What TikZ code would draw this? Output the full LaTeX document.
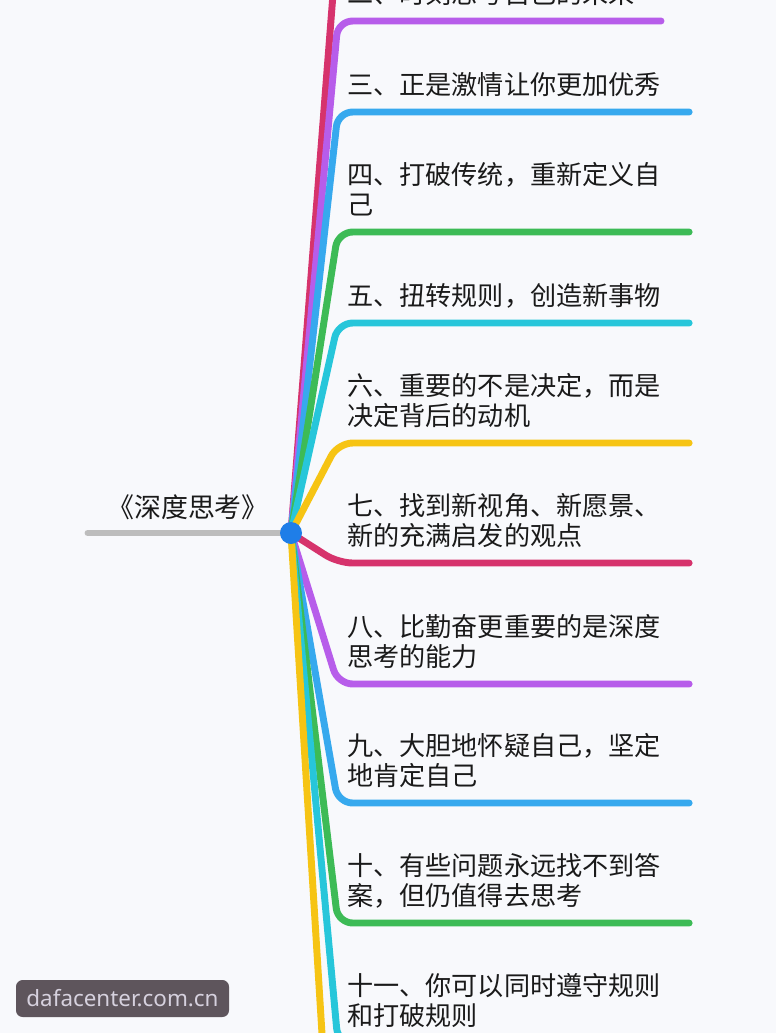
\documentclass[tikz,border=0pt]{standalone}
\usepackage{fontspec}
\setmainfont{Noto Sans CJK SC}
\newfontfamily\sitefont{Noto Sans}
\usepackage{xcolor}
\usepackage{tikz}
\usetikzlibrary{positioning, calc}

\definecolor{mmred}{HTML}{D6336C}
\definecolor{mmpurple}{HTML}{B75DEA}
\definecolor{mmblue}{HTML}{37A9EE}
\definecolor{mmgreen}{HTML}{3DBB56}
\definecolor{mmcyan}{HTML}{27C6DA}
\definecolor{mmyellow}{HTML}{F6C414}
\definecolor{mmgray}{HTML}{BDBDBD}
\definecolor{mmdot}{HTML}{1F7EE8}
\definecolor{mmtext}{HTML}{1A1A1A}
\definecolor{mmbg}{HTML}{F8F9FC}
\definecolor{mmwm}{HTML}{5E555C}
\definecolor{mmwmtext}{HTML}{D6D1DE}

\begin{document}
\begin{tikzpicture}[x=0.75pt, y=-0.75pt,
    item/.style={anchor=south west, inner sep=0pt, text depth=0pt, align=left, text=mmtext, font=\fontsize{19.6pt}{22.5pt}\selectfont},
    branch/.style={line width=5.2pt, line cap=round, rounded corners=11pt},
    hubdot/.style={circle, fill=mmdot, inner sep=0pt, minimum size=16.5pt},
    site/.style={fill=mmwm, rounded corners=5pt, inner sep=0pt, minimum width=159.75pt, minimum height=27.75pt, text=mmwmtext, font=\sitefont\fontsize{16.8pt}{20pt}\selectfont}]
    %\draw[step=50, gray!30, very thin] (0,0) grid (776,1033);

    \useasboundingbox (0,0) rectangle (776,1033);
    \fill[mmbg] (0,0) rectangle (776,1033);

    \node[item, anchor=south, font=\fontsize{20.2pt}{24pt}\selectfont] (root) at (188,518) {《深度思考》};

    \node[item] (b2) at (347,4) {二、时刻思考自己的未来};
    \node[item] (b3) at (347,95) {三、正是激情让你更加优秀};
    \node[item] (b4) at (347,215) {四、打破传统，重新定义自\\己};
    \node[item] (b5) at (347,306) {五、扭转规则，创造新事物};
    \node[item] (b6) at (347,426) {六、重要的不是决定，而是\\决定背后的动机};
    \node[item] (b7) at (347,546) {七、找到新视角、新愿景、\\新的充满启发的观点};
    \node[item] (b8) at (347,667) {八、比勤奋更重要的是深度\\思考的能力};
    \node[item] (b9) at (347,786) {九、大胆地怀疑自己，坚定\\地肯定自己};
    \node[item] (b10) at (347,906) {十、有些问题永远找不到答\\案，但仍值得去思考};
    \node[item] (b11) at (347,1026) {十一、你可以同时遵守规则\\和打破规则};

    \coordinate (hub) at (291,533);
    \coordinate (top1) at (338,-70);
    \coordinate (bot12) at (330,1163);

    \draw[branch, mmgray] (88,533) -- (hub);

    \draw[branch, mmred] (hub) -- (top1);
    \draw[branch, mmpurple] (hub) -- ([shift={(-9,17)}]b2.south west) -- ([shift={(26,17)}]b2.south east);
    \draw[branch, mmblue] (hub) -- ([shift={(-9,17)}]b3.south west) -- ([shift={(28,17)}]b3.south east);
    \draw[branch, mmgreen] (hub) -- ([shift={(-9,17)}]b4.south west) -- ([shift={(28,17)}]b4.south east);
    \draw[branch, mmcyan] (hub) -- ([shift={(-9,17)}]b5.south west) -- ([shift={(28,17)}]b5.south east);
    \draw[branch, mmyellow] (hub) -- ([shift={(-9,17)}]b6.south west) -- ([shift={(28,17)}]b6.south east);
    \draw[branch, mmred] (hub) -- ([shift={(-9,17)}]b7.south west) -- ([shift={(28,17)}]b7.south east);
    \draw[branch, mmpurple] (hub) -- ([shift={(-9,17)}]b8.south west) -- ([shift={(28,17)}]b8.south east);
    \draw[branch, mmblue] (hub) -- ([shift={(-9,17)}]b9.south west) -- ([shift={(28,17)}]b9.south east);
    \draw[branch, mmgreen] (hub) -- ([shift={(-9,17)}]b10.south west) -- ([shift={(28,17)}]b10.south east);
    \draw[branch, mmcyan] (hub) -- ([shift={(-9,17)}]b11.south west) -- ([shift={(28,17)}]b11.south east);
    \draw[branch, mmyellow] (hub) -- (bot12);

    \node[hubdot] (hubnode) at (hub) {};

    \node[site] (wm) at (122.5,998.5) {dafacenter.com.cn};

  \end{tikzpicture}
\end{document}
